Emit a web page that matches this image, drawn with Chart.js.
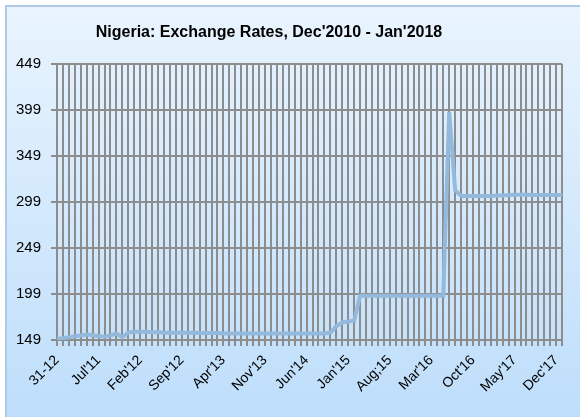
<!DOCTYPE html>
<html>
<head>
<meta charset="utf-8">
<script src="https://cdn.jsdelivr.net/npm/chart.js@4"></script>
<style>
  html, body { margin: 0; padding: 0; background: #ffffff; }
  #wrap { position: relative; width: 580px; height: 417px; }
</style>
</head>
<body>
<div id="wrap"><canvas id="chart" width="580" height="417"></canvas></div>
<script>
// monthly categories, Dec 2010 .. Jan 2018
const months = [
  "Dec'10",
  "Jan'11","Feb'11","Mar'11","Apr'11","May'11","Jun'11","Jul'11","Aug'11","Sep'11","Oct'11","Nov'11","Dec'11",
  "Jan'12","Feb'12","Mar'12","Apr'12","May'12","Jun'12","Jul'12","Aug'12","Sep'12","Oct'12","Nov'12","Dec'12",
  "Jan'13","Feb'13","Mar'13","Apr'13","May'13","Jun'13","Jul'13","Aug'13","Sep'13","Oct'13","Nov'13","Dec'13",
  "Jan'14","Feb'14","Mar'14","Apr'14","May'14","Jun'14","Jul'14","Aug'14","Sep'14","Oct'14","Nov'14","Dec'14",
  "Jan'15","Feb'15","Mar'15","Apr'15","May'15","Jun'15","Jul'15","Aug'15","Sep'15","Oct'15","Nov'15","Dec'15",
  "Jan'16","Feb'16","Mar'16","Apr'16","May'16","Jun'16","Jul'16","Aug'16","Sep'16","Oct'16","Nov'16","Dec'16",
  "Jan'17","Feb'17","Mar'17","Apr'17","May'17","Jun'17","Jul'17","Aug'17","Sep'17","Oct'17","Nov'17","Dec'17",
  "Jan'18"
];

// labels shown on the axis (every 7th month)
const axisLabels = ["31-12", "Jul'11", "Feb'12", "Sep'12", "Apr'13", "Nov'13", "Jun'14",
                    "Jan'15", "Aug;15", "Mar'16", "Oct'16", "May'17", "Dec'17"];

// naira per US dollar
const rates = [
  150.5,
  151, 152, 153, 154, 155, 154.5, 153, 152.5, 154, 156, 152, 157,
  158, 158, 158, 157.5, 157.5, 157, 157, 157, 157, 157, 157, 156.5,
  156.5, 156.5, 156.5, 156, 156, 156, 156, 156, 156, 156, 156, 156,
  156, 156, 156, 156, 156, 156, 156, 156, 156, 157, 164, 168,
  169, 170, 197, 197, 197, 197, 197, 197, 197, 197, 197, 197,
  197, 197, 197, 197, 197, 397, 312, 305.5, 305.5, 305.5, 305.5, 305.5,
  305.5, 306, 306, 306.5, 307, 307, 307, 306.5, 306.5, 306.5, 306.5, 306.5,
  306.5
];

const yTicks = [149, 199, 249, 299, 349, 399, 449];
const titleText = "Nigeria: Exchange Rates, Dec'2010 - Jan'2018";

// chart area background + title, drawn like the spreadsheet frame
const frame = {
  id: "frame",
  beforeDraw(chart) {
    const { ctx } = chart;
    const g = ctx.createLinearGradient(0, 6, 0, 417);
    g.addColorStop(0, "#e9f4fe");
    g.addColorStop(1, "#bedefb");
    ctx.save();
    ctx.fillStyle = g;
    ctx.fillRect(6, 6, 580, 420);
    ctx.strokeStyle = "#aecbe5";
    ctx.lineWidth = 2;
    ctx.strokeRect(6, 6, 590, 430);
    ctx.restore();
  },
  afterDraw(chart) {
    const { ctx } = chart;
    ctx.save();
    ctx.font = "bold 16px 'Liberation Sans', Arial, sans-serif";
    ctx.fillStyle = "#000000";
    ctx.textAlign = "center";
    ctx.textBaseline = "middle";
    ctx.fillText(titleText, 269, 33);
    ctx.restore();
  }
};

Chart.defaults.font.family = "'Liberation Sans', Arial, sans-serif";
Chart.defaults.color = "#000000";

new Chart(document.getElementById("chart"), {
  type: "line",
  data: {
    labels: months,
    datasets: [{
      label: "Exchange rate",
      data: rates,
      borderColor: "#93b9dc",
      borderWidth: 4,
      pointRadius: 0,
      tension: 0,
      fill: false
    }]
  },
  options: {
    responsive: false,
    animation: false,
    layout: { padding: { left: 10, right: 17, top: 64, bottom: 0 } },
    plugins: {
      legend: { display: false },
      tooltip: { enabled: false },
      title: { display: false }
    },
    scales: {
      x: {
        offset: false,
        grid: { color: "#8d8d8d", lineWidth: 2, tickLength: 6, drawTicks: true },
        border: { display: false },
        ticks: {
          autoSkip: false,
          maxRotation: 45,
          minRotation: 45,
          padding: 6,
          font: { size: 14 },
          callback: (v, i) => (i % 7 === 0 ? axisLabels[i / 7] : "")
        },
        afterFit: (s) => { s.height = 77; }
      },
      y: {
        min: 149,
        max: 449,
        afterBuildTicks: (s) => { s.ticks = yTicks.map((v) => ({ value: v })); },
        grid: { color: "#8d8d8d", lineWidth: 2, tickLength: 6 },
        border: { display: false },
        ticks: { font: { size: 15 }, padding: 10 },
        afterFit: (s) => { s.width = 47; }
      }
    }
  },
  plugins: [frame]
});
</script>
</body>
</html>
